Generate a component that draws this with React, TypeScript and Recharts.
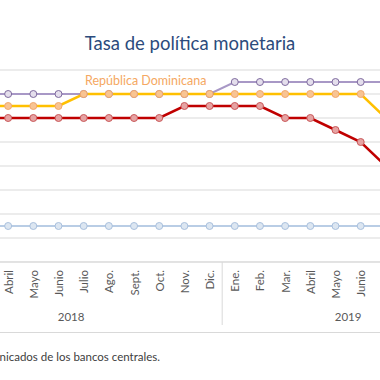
import React from 'react';
import { LineChart, Line, XAxis, YAxis, CartesianGrid } from 'recharts';

const months = ['Ene.', 'Feb.', 'Mar.', 'Abril', 'Mayo', 'Junio', 'Julio', 'Ago.', 'Sept.', 'Oct.', 'Nov.', 'Dic.',
  'Ene.', 'Feb.', 'Mar.', 'Abril', 'Mayo', 'Junio', 'Julio', 'Ago.', 'Sept.', 'Oct.'];
const years = ['2018', '2018', '2018', '2018', '2018', '2018', '2018', '2018', '2018', '2018', '2018', '2018',
  '2019', '2019', '2019', '2019', '2019', '2019', '2019', '2019', '2019', '2019'];

const honduras = [null, null, 5.5, 5.5, 5.5, 5.5, 5.5, 5.5, 5.5, 5.5, 5.5, 5.5,
  5.75, 5.75, 5.75, 5.75, 5.75, 5.75, 5.75, null, null, null];
const dominicana = [null, null, 5.25, 5.25, 5.25, 5.25, 5.5, 5.5, 5.5, 5.5, 5.5, 5.5,
  5.5, 5.5, 5.5, 5.5, 5.5, 5.5, 5.0, null, null, null];
const costaRica = [null, null, 5.0, 5.0, 5.0, 5.0, 5.0, 5.0, 5.0, 5.0, 5.25, 5.25,
  5.25, 5.25, 5.0, 5.0, 4.75, 4.5, 4.0, null, null, null];
const guatemala = [null, null, 2.75, 2.75, 2.75, 2.75, 2.75, 2.75, 2.75, 2.75, 2.75, 2.75,
  2.75, 2.75, 2.75, 2.75, 2.75, 2.75, 2.75, null, null, null];

const yTicks = [2, 2.5, 3, 3.5, 4, 4.5, 5, 5.5, 6];

const data = months.map((m, i) => ({
  m,
  year: years[i],
  hn: honduras[i],
  rd: dominicana[i],
  cr: costaRica[i],
  gt: guatemala[i],
}));

const W = 574;
const H = 340;
const CHART_LEFT = -90;
const VIEW_W = 380;
const M = { top: 70, right: 10, bottom: 0, left: 10 };
const bw = (W - M.left - M.right) / months.length;

// year group centers (index units)
const yearGroups: { year: string; center: number }[] = [];
{
  let start = 0;
  for (let i = 1; i <= years.length; i++) {
    if (i === years.length || years[i] !== years[i - 1]) {
      yearGroups.push({ year: years[start], center: (start + i - 1) / 2 });
      start = i;
    }
  }
}

const FONT = 'Lato, "Open Sans", sans-serif';

function MonthTick(props: any) {
  const { x, y, payload } = props;
  const i = payload?.index ?? props.index;
  const els: any[] = [];
  const px = x + CHART_LEFT;
  if (px > 0 && px < VIEW_W) {
    els.push(
      <text key="t" x={x} y={y} transform={`rotate(-90 ${x} ${y})`} textAnchor="end"
        dominantBaseline="central" fontSize={11.5} fill="#595959" fontFamily={FONT}>
        {payload.value}
      </text>
    );
  }
  if (i > 0 && years[i] !== years[i - 1]) {
    els.push(<line key="s" x1={x - bw / 2} x2={x - bw / 2} y1={y - 8} y2={y + 55} stroke="#D9D9D9" strokeWidth={1} />);
  }
  const g = yearGroups.find((gr) => Math.floor(gr.center) === i);
  if (g) {
    els.push(
      <text key="y" x={x + (g.center - i) * bw} y={y + 46} textAnchor="middle" dominantBaseline="central"
        fontSize={11.5} fill="#595959" fontFamily={FONT}>
        {g.year}
      </text>
    );
  }
  return <g>{els}</g>;
}

const dot = (fill: string, stroke: string) => ({ r: 3.5, fill, stroke, strokeWidth: 1 });

export default function App() {
  return (
    <div style={{ position: 'absolute', left: 0, top: 0, width: VIEW_W, height: 380, overflow: 'hidden', background: '#fff', fontFamily: FONT }}>
      <div style={{ position: 'absolute', left: 0, width: VIEW_W, top: 31, textAlign: 'center', fontSize: 18.5, color: '#2C4B7C', lineHeight: '24px' }}>
        Tasa de política monetaria
      </div>
      <div style={{ position: 'absolute', left: CHART_LEFT, top: 0 }}>
        <LineChart width={W} height={H} data={data} margin={M}>
          <CartesianGrid vertical={false} stroke="#D9D9D9" />
          <XAxis dataKey="m" interval={0} tickLine={false} tickSize={6} tickMargin={2}
            padding={{ left: bw / 2, right: bw / 2 }}
            axisLine={{ stroke: '#D9D9D9' }} height={H - M.top - M.bottom - 192} tick={<MonthTick />} />
          <YAxis hide domain={[2, 6]} ticks={yTicks} />
          <Line dataKey="gt" stroke="#B9CDE5" strokeWidth={2} dot={dot('#DCE6F1', '#A9C0DD')} isAnimationActive={false} />
          <Line dataKey="hn" stroke="#A898C6" strokeWidth={2} dot={dot('#E4DEEC', '#7E6A9E')} isAnimationActive={false} />
          <Line dataKey="rd" stroke="#FFC000" strokeWidth={2.5} dot={dot('#F8C493', '#F2A86E')} isAnimationActive={false} />
          <Line dataKey="cr" stroke="#C00000" strokeWidth={2.5} dot={dot('#E6A3A3', '#C9595A')} isAnimationActive={false} />
        </LineChart>
      </div>
      <div style={{ position: 'absolute', left: 85, top: 73, fontSize: 12.5, color: '#F5A862', whiteSpace: 'nowrap', lineHeight: '16px' }}>
        República Dominicana
      </div>
      <div style={{ position: 'absolute', left: 0, top: 332, width: VIEW_W, height: 1, background: '#D9D9D9' }} />
      <div style={{ position: 'absolute', right: 220, top: 349, fontSize: 11.5, color: '#404040', whiteSpace: 'nowrap', lineHeight: '15px' }}>
        Fuente: comunicados de los bancos centrales.
      </div>
    </div>
  );
}
